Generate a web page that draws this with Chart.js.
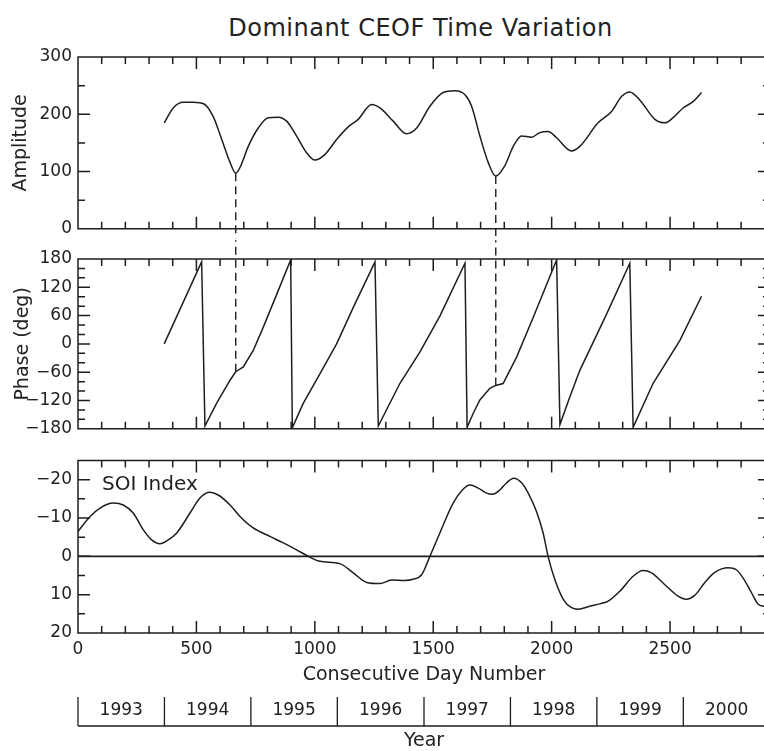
<!DOCTYPE html>
<html lang="en">
<head>
  <meta charset="UTF-8">
  <title>Dominant CEOF Time Variation</title>
  <script src="https://cdn.jsdelivr.net/npm/chart.js"></script>
  <style>
    html, body { margin: 0; padding: 0; background: #fff; overflow: hidden; }
    #wrap { position: relative; width: 764px; height: 751px; overflow: hidden; }
    #titulo { position: absolute; left: 0; top: 14px; width: 841px; text-align: center;
              font: 24px "DejaVu Sans"; line-height: 28px; letter-spacing: 0.5px; color: #222; }
    canvas { position: absolute; left: 0; }
  </style>
</head>
<body>
  <div id="wrap">
    <div id="titulo">Dominant CEOF Time Variation</div>
    <canvas id="cAmp" width="772" height="245" style="top:0px"></canvas>
    <canvas id="cFase" width="772" height="220" style="top:225px"></canvas>
    <canvas id="cSoi" width="772" height="311" style="top:440px"></canvas>
  </div>

  <script>
    // eje de dias
    const dayMax = 2922;
    const yearLabels = ['1993', '1994', '1995', '1996', '1997', '1998', '1999', '2000'];
    const yearStarts = [0, 365, 730, 1095, 1461, 1826, 2191, 2556, 2922];

    // amplitud del CEOF dominante
    const ampDays = [364, 402, 445, 487, 532, 571, 607, 642, 666, 684, 719, 761, 803, 846, 881, 923, 965, 1000,
      1043, 1092, 1141, 1183, 1240, 1275, 1331, 1387, 1430, 1486, 1542, 1591, 1634, 1662, 1697, 1732, 1764,
      1802, 1838, 1873, 1915, 1950, 1985, 2021, 2084, 2119, 2196, 2253, 2295, 2330, 2372, 2436, 2478, 2513,
      2555, 2597, 2633];
    const ampValues = [185, 211, 221, 221, 218, 196, 156, 116, 97, 107, 144, 176, 194, 195, 188, 162, 133, 120,
      130, 156, 178, 191, 217, 211, 188, 166, 176, 214, 238, 241, 234, 214, 162, 116, 92,
      110, 144, 162, 160, 168, 170, 159, 136, 144, 185, 205, 231, 239, 225, 191, 185, 194,
      211, 222, 238];

    // fase (grados)
    const phaseDays = [364, 522, 536, 585, 642, 666, 698, 740, 782, 839, 898, 905, 951, 1022, 1092, 1162, 1254,
      1268, 1359, 1444, 1528, 1634, 1643, 1669, 1697, 1739, 1764, 1795, 1852, 1922, 2021, 2035, 2077, 2119,
      2232, 2330, 2344, 2428, 2541, 2633];
    const phaseValues = [0, 174, -174, -126, -77, -59, -49, -14, 35, 105, 178, -178, -126, -63, 0, 77, 174,
      -174, -84, -17, 59, 171, -177, -147, -119, -94, -88, -84, -28, 56, 178, -171, -112, -56,
      63, 171, -177, -84, 7, 101];

    // indice SOI
    const soiDays = [0, 51, 93, 149, 191, 233, 276, 311, 346, 381, 417, 473, 515, 557, 592, 642, 684, 740, 810,
      867, 923, 979, 1022, 1106, 1162, 1219, 1275, 1324, 1380, 1415, 1451, 1486, 1528, 1584, 1626, 1655,
      1690, 1725, 1750, 1781, 1810, 1840, 1873, 1901, 1936, 1964, 1985, 2013, 2049, 2084, 2112, 2161, 2203,
      2239, 2288, 2344, 2386, 2422, 2478, 2534, 2569, 2604, 2647, 2689, 2745, 2780, 2808, 2844, 2872, 2896, 2922];
    const soiValues = [-6.5, -10.4, -12.6, -13.9, -13.4, -11.3, -6.9, -4.3, -3.3, -4.3, -6.1, -11.3, -15.2, -16.7,
      -16, -13.4, -10.4, -7.4, -5.2, -3.5, -1.7, 0.2, 1.3, 1.9, 4.3, 6.8, 7.1, 6.2, 6.3, 6.0, 4.8, 0, -6.1,
      -13.9, -17.5, -18.6, -17.8, -16.5, -16.2, -17.3, -19.2, -20.4, -19.2, -16.5, -11.7, -6.1, 0, 6, 11.2,
      13.4, 13.8, 13, 12.4, 11.7, 9.1, 5.2, 3.7, 4.3, 7.4, 10.4, 11.2, 10.2, 6.8, 4.2, 3.0, 3.5, 5.6, 9.5,
      12.5, 13.0, 13.2];
    const zeroDays = [0, 2922];
    const zeroValues = [0, 0];

    // lineas discontinuas en los minimos de amplitud
    const dashDays = [666, 1764];
    const dashAmp = [97, 92];
    const dashPhase = [-59, -88];
    const dashAmpLow = -17;
    const dashPhaseHigh = 220;

    const ink = '#1e1e1e';
    Chart.defaults.font.family = '"DejaVu Sans", sans-serif';
    Chart.defaults.font.size = 17;
    Chart.defaults.color = '#222';

    function pares(xs, ys) {
      return xs.map((x, i) => ({ x: x, y: ys[i] }));
    }

    function etiqueta(v) {
      return v < 0 ? '\u2212' + Math.abs(v) : String(v);
    }

    function curva(datos, extra) {
      return Object.assign({ data: datos, borderColor: ink, borderWidth: 1.5, pointRadius: 0, fill: false }, extra || {});
    }

    function discontinua(datos) {
      return { data: datos, borderColor: ink, borderWidth: 1.4, borderDash: [8, 5], pointRadius: 0, clip: false };
    }

    // marco, marcas hacia dentro, nota y cajas de los años
    const marcas = {
      id: 'marcas',
      afterDatasetsDraw(chart, args, o) {
        const { ctx, chartArea: a } = chart;
        const sx = chart.scales.x, sy = chart.scales.y;
        ctx.save();
        ctx.strokeStyle = ink;
        ctx.lineWidth = 1.5;
        ctx.beginPath();
        ctx.rect(a.left, a.top, a.width, a.height);
        sx.ticks.forEach(t => {
          const p = sx.getPixelForValue(t.value);
          const len = t.value % 500 === 0 ? 12 : 7;
          ctx.moveTo(p, a.bottom); ctx.lineTo(p, a.bottom - len);
          ctx.moveTo(p, a.top); ctx.lineTo(p, a.top + len);
        });
        sy.ticks.forEach(t => {
          const p = sy.getPixelForValue(t.value);
          const len = (t.value - o.yBase) % o.yMajor === 0 ? 12 : 7;
          ctx.moveTo(a.left, p); ctx.lineTo(a.left + len, p);
          ctx.moveTo(a.right, p); ctx.lineTo(a.right - len, p);
        });
        ctx.stroke();

        if (o.nota) {
          ctx.fillStyle = ink;
          ctx.font = '20px "DejaVu Sans"';
          ctx.textBaseline = 'middle';
          ctx.fillText(o.nota, a.left + 24, a.top + 24);
        }

        if (o.anios) {
          const s2 = chart.scales.x2;
          const y0 = s2.top, y1 = s2.top + 29;
          ctx.lineWidth = 1.3;
          ctx.beginPath();
          yearStarts.forEach(d => {
            const p = s2.getPixelForValue(d);
            ctx.moveTo(p, y0); ctx.lineTo(p, y1);
          });
          ctx.moveTo(s2.getPixelForValue(0), y1);
          ctx.lineTo(s2.getPixelForValue(dayMax), y1);
          ctx.stroke();
        }
        ctx.restore();
      }
    };

    function ejeX(visible) {
      return {
        type: 'linear', min: 0, max: dayMax, display: visible, weight: 0,
        ticks: { stepSize: 100, autoSkip: false, includeBounds: false, maxRotation: 0, padding: 6,
                 callback: v => v % 500 === 0 ? String(v) : '' },
        grid: { display: false, drawTicks: false },
        border: { display: false }
      };
    }

    function ejeY(min, max, paso, mayor, base, extra) {
      return Object.assign({
        min: min, max: max,
        ticks: { stepSize: paso, autoSkip: false, includeBounds: false, padding: 6,
                 callback: v => (v - base) % mayor === 0 ? etiqueta(v) : '' },
        grid: { display: false, drawTicks: false },
        border: { display: false },
        afterFit: s => { s.width = 78; }
      }, extra || {});
    }

    const comunes = {
      responsive: false,
      animation: false,
      events: []
    };

    // panel 1: amplitud
    new Chart(document.getElementById('cAmp'), {
      type: 'line',
      data: {
        datasets: [curva(pares(ampDays, ampValues), { cubicInterpolationMode: 'monotone' })]
          .concat(dashDays.map((d, i) => discontinua([{ x: d, y: dashAmp[i] }, { x: d, y: dashAmpLow }])))
      },
      options: Object.assign({}, comunes, {
        layout: { padding: { top: 57, bottom: 15, left: 0, right: 2 } },
        plugins: { legend: { display: false }, tooltip: { enabled: false }, marcas: { yMajor: 100, yBase: 0 } },
        scales: {
          x: ejeX(false),
          y: ejeY(0, 300, 50, 100, 0, {
            title: { display: true, text: 'Amplitude', font: { size: 19 }, padding: { top: 10, bottom: 0 } }
          })
        }
      }),
      plugins: [marcas]
    });

    // panel 2: fase
    new Chart(document.getElementById('cFase'), {
      type: 'line',
      data: {
        datasets: [curva(pares(phaseDays, phaseValues))]
          .concat(dashDays.map((d, i) => discontinua([{ x: d, y: dashPhase[i] }, { x: d, y: dashPhaseHigh }])))
      },
      options: Object.assign({}, comunes, {
        layout: { padding: { top: 34, bottom: 14, left: 0, right: 2 } },
        plugins: { legend: { display: false }, tooltip: { enabled: false }, marcas: { yMajor: 60, yBase: -180 } },
        scales: {
          x: ejeX(false),
          y: ejeY(-180, 180, 20, 60, -180, {
            title: { display: true, text: 'Phase (deg)', font: { size: 19 }, padding: { top: 12, bottom: 0 } }
          })
        }
      }),
      plugins: [marcas]
    });

    // panel 3: SOI
    const ejeDias = ejeX(true);
    ejeDias.title = { display: true, text: 'Consecutive Day Number', font: { size: 19 }, padding: { top: 0, bottom: 11 } };
    ejeDias.afterFit = s => { s.height = 64; };

    new Chart(document.getElementById('cSoi'), {
      type: 'line',
      data: {
        datasets: [
          curva(pares(soiDays, soiValues), { cubicInterpolationMode: 'monotone' }),
          curva(pares(zeroDays, zeroValues), { borderWidth: 1.6 })
        ]
      },
      options: Object.assign({}, comunes, {
        layout: { padding: { top: 20.5, bottom: 0, left: 0, right: 2 } },
        plugins: { legend: { display: false }, tooltip: { enabled: false },
                   marcas: { yMajor: 10, yBase: 0, nota: 'SOI Index', anios: true } },
        scales: {
          x: ejeDias,
          x2: {
            type: 'linear', position: 'bottom', weight: 1, min: 0, max: dayMax,
            afterBuildTicks: s => {
              s.ticks = yearLabels.map((_, i) => ({ value: (yearStarts[i] + yearStarts[i + 1]) / 2 }));
            },
            ticks: { autoSkip: false, maxRotation: 0, padding: 3, callback: (v, i) => yearLabels[i] },
            grid: { display: false, drawTicks: false },
            border: { display: false },
            title: { display: true, text: 'Year', font: { size: 19, lineHeight: 1 }, padding: { top: 0, bottom: 0 } },
            afterFit: s => { s.height = 54; }
          },
          y: ejeY(-25, 20, 5, 10, 0, { reverse: true })
        }
      }),
      plugins: [marcas]
    });
  </script>
</body>
</html>
